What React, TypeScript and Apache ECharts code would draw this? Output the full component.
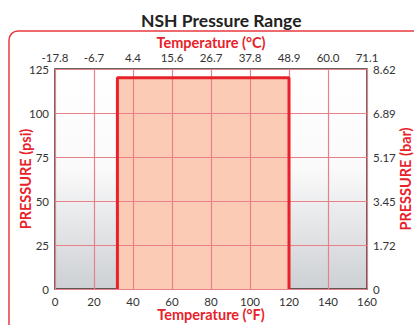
import React, { useEffect, useRef } from "react";
import * as echarts from "echarts";

const fahrenheitTicks = [0, 20, 40, 60, 80, 100, 120, 140, 160];
const celsiusLabels = ["-17.8", "-6.7", "4.4", "15.6", "26.7", "37.8", "48.9", "60.0", "71.1"];
const psiTicks = [0, 25, 50, 75, 100, 125];
const barLabels = ["0", "1.72", "3.45", "5.17", "6.89", "8.62"];
// Pressure range outline: [°F, psi]
const rangeOutline: [number, number][] = [
  [32, 0],
  [32, 120],
  [120, 120],
  [120, 0],
];

const RED = "#e8222a";
const GRIDRED = "#e8808a";
const FONT = "Lato, sans-serif";

export default function App() {
  const ref = useRef<HTMLDivElement>(null);
  useEffect(() => {
    if (!ref.current) return;
    const chart = echarts.init(ref.current, undefined, { renderer: "svg" });
    const xStep = fahrenheitTicks[1] - fahrenheitTicks[0];
    const yStep = psiTicks[1] - psiTicks[0];
    const axisCommon = {
      z: 3,
      nameMoveOverlap: false,
      axisTick: { show: false },
      axisLine: { show: false },
      splitLine: { show: true, lineStyle: { color: GRIDRED, width: 1.2 } },
    };
    const labelStyle = { color: "#333", fontSize: 11.5, fontFamily: FONT };
    const nameStyle = { color: RED, fontSize: 14.5, fontWeight: "bold", fontFamily: FONT };
    chart.setOption({
      animation: false,
      title: {
        text: "NSH Pressure Range",
        left: 136,
        top: 6,
        textStyle: { color: "#222", fontSize: 17.5, fontWeight: "bold", fontFamily: FONT },
      },
      graphic: [
        {
          type: "rect",
          z: -1,
          shape: { x: 9, y: 31, width: 460, height: 360, r: 9 },
          style: { fill: "none", stroke: "#e83a40", lineWidth: 1.5 },
        },
      ],
      grid: {
        left: 55,
        right: 47,
        top: 69,
        bottom: 36,
        outerBoundsMode: "none",
        containLabel: false,
        show: true,
        borderColor: "#333",
        borderWidth: 1.5,
        backgroundColor: new echarts.graphic.LinearGradient(0, 0, 0, 1, [
          { offset: 0, color: "#ffffff" },
          { offset: 0.45, color: "#fafafa" },
          { offset: 1, color: "#cdd0d4" },
        ]),
      },
      xAxis: [
        {
          ...axisCommon,
          type: "value",
          position: "bottom",
          min: fahrenheitTicks[0],
          max: fahrenheitTicks[fahrenheitTicks.length - 1],
          interval: xStep,
          name: "Temperature (°F)",
          nameLocation: "middle",
          nameGap: 18,
          nameTextStyle: nameStyle,
          axisLabel: { ...labelStyle, margin: 6 },
        },
        {
          ...axisCommon,
          type: "value",
          position: "top",
          min: fahrenheitTicks[0],
          max: fahrenheitTicks[fahrenheitTicks.length - 1],
          interval: xStep,
          splitLine: { show: false },
          name: "Temperature (°C)",
          nameLocation: "middle",
          nameGap: 19,
          nameTextStyle: nameStyle,
          axisLabel: {
            ...labelStyle,
            margin: 6,
            formatter: (v: number) => celsiusLabels[Math.round((v - fahrenheitTicks[0]) / xStep)] ?? "",
          },
        },
      ],
      yAxis: [
        {
          ...axisCommon,
          type: "value",
          position: "left",
          min: psiTicks[0],
          max: psiTicks[psiTicks.length - 1],
          interval: yStep,
          name: "PRESSURE (psi)",
          nameLocation: "middle",
          nameGap: 22,
          nameTextStyle: nameStyle,
          axisLabel: { ...labelStyle, margin: 6 },
        },
        {
          ...axisCommon,
          type: "value",
          position: "right",
          min: psiTicks[0],
          max: psiTicks[psiTicks.length - 1],
          interval: yStep,
          splitLine: { show: false },
          name: "PRESSURE (bar)",
          nameLocation: "middle",
          nameRotate: 90,
          nameGap: 31,
          nameTextStyle: nameStyle,
          axisLabel: {
            ...labelStyle,
            margin: 6,
            formatter: (v: number) => barLabels[Math.round((v - psiTicks[0]) / yStep)] ?? "",
          },
        },
      ],
      series: [
        {
          type: "line",
          z: 1,
          data: rangeOutline,
          symbol: "none",
          lineStyle: { width: 0 },
          areaStyle: { color: "#fbcbb5", opacity: 1 },
          silent: true,
        },
        {
          type: "line",
          z: 5,
          data: rangeOutline,
          symbol: "none",
          lineStyle: { color: RED, width: 3 },
          silent: true,
        },
      ],
    });
    return () => chart.dispose();
  }, []);
  return <div ref={ref} style={{ width: 414, height: 325, position: "absolute", left: 0, top: 0 }} />;
}
